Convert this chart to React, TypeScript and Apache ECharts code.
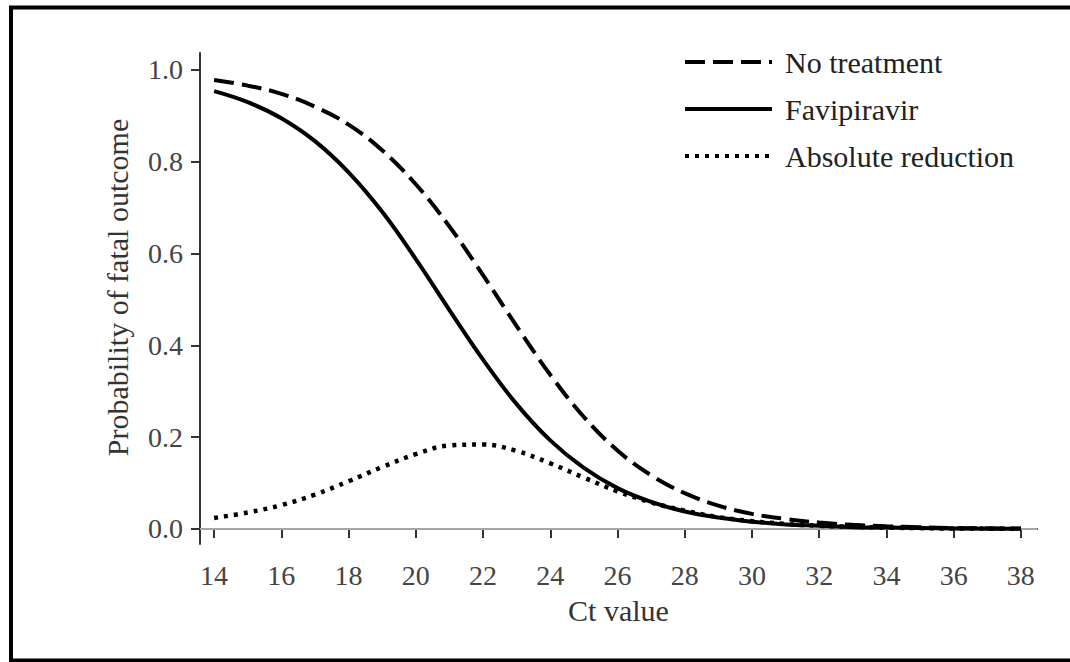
import React, { useEffect, useRef } from "react";
import * as echarts from "echarts";

const ctValues = [14, 15, 16, 17, 18, 19, 20, 21, 22, 23, 24, 25, 26, 27, 28, 29, 30, 31, 32, 33, 34, 35, 36, 37, 38];
const noTreatment = [0.978, 0.966, 0.948, 0.920, 0.881, 0.825, 0.751, 0.659, 0.553, 0.442, 0.336, 0.244, 0.171, 0.117, 0.078, 0.051, 0.033, 0.022, 0.014, 0.009, 0.006, 0.004, 0.002, 0.0015, 0.001];
const favipiravir = [0.954, 0.930, 0.895, 0.845, 0.777, 0.691, 0.588, 0.477, 0.369, 0.272, 0.193, 0.133, 0.089, 0.059, 0.038, 0.025, 0.016, 0.010, 0.007, 0.004, 0.003, 0.002, 0.001, 0.0007, 0.0004];
const absoluteReduction = [0.024, 0.036, 0.052, 0.075, 0.104, 0.135, 0.163, 0.182, 0.184, 0.170, 0.143, 0.112, 0.082, 0.058, 0.040, 0.026, 0.017, 0.011, 0.007, 0.005, 0.003, 0.002, 0.001, 0.0008, 0.0006];
const xTicks = [14, 16, 18, 20, 22, 24, 26, 28, 30, 32, 34, 36, 38];
const yTicks = [0, 0.2, 0.4, 0.6, 0.8, 1.0];
const seriesNames = ["No treatment", "Favipiravir", "Absolute reduction"];

const FONT = "Liberation Serif";

export default function App() {
  const ref = useRef<HTMLDivElement>(null);
  useEffect(() => {
    if (!ref.current) return;
    const chart = echarts.init(ref.current, undefined, { renderer: "svg" });
    const pairs = (ys: number[]) => ctValues.map((x, i) => [x, ys[i]]);
    chart.setOption({
      animation: false,
      backgroundColor: "#ffffff",
      textStyle: { fontFamily: FONT },
      grid: { left: 200, right: 33, top: 53, bottom: 118, containLabel: false },
      legend: {
        orient: "vertical",
        left: 678,
        top: 42,
        itemWidth: 87,
        itemHeight: 14,
        itemGap: 17,
        data: seriesNames,
        itemStyle: { opacity: 0 },
        lineStyle: { width: 4 },
        textStyle: { fontFamily: FONT, fontSize: 30, color: "#222", padding: [0, 0, 0, 8] },
      },
      xAxis: {
        type: "value",
        min: 13.58,
        max: 38.48,
        name: "Ct value",
        nameLocation: "middle",
        nameGap: 51,
        nameTextStyle: { fontFamily: FONT, fontSize: 30, color: "#333" },
        axisLine: { show: true, lineStyle: { color: "#333", width: 2 } },
        axisTick: { show: true, length: 9, lineStyle: { color: "#333", width: 2 }, customValues: xTicks },
        axisLabel: { fontFamily: FONT, fontSize: 28, color: "#444", margin: 17, customValues: xTicks },
        splitLine: { show: false },
      },
      yAxis: {
        type: "value",
        min: -0.0327,
        max: 1.037,
        name: "Probability of fatal outcome",
        nameLocation: "middle",
        nameGap: 68,
        nameTextStyle: { fontFamily: FONT, fontSize: 30, color: "#333", padding: [0, 0, 0, 22] },
        axisLine: { show: true, lineStyle: { color: "#333", width: 2 } },
        axisTick: { show: true, length: 9, lineStyle: { color: "#333", width: 2 }, customValues: yTicks },
        axisLabel: {
          fontFamily: FONT,
          fontSize: 28,
          color: "#444",
          margin: 17,
          customValues: yTicks,
          formatter: (v: number) => v.toFixed(1),
        },
        splitLine: { show: false },
      },
      graphic: [
        {
          type: "rect",
          shape: { x: 11, y: 7.5, width: 1100, height: 653 },
          style: { fill: "none", stroke: "#000", lineWidth: 4 },
          silent: true,
          z: 100,
        },
      ],
      series: [
        {
          name: seriesNames[0],
          type: "line",
          data: pairs(noTreatment),
          showSymbol: false,
          symbol: "none",
          smooth: 0.4,
          lineStyle: { color: "#000", width: 4, type: [20, 8] },
          itemStyle: { color: "#000" },
          z: 3,
          markLine: {
            silent: true,
            symbol: "none",
            label: { show: false },
            lineStyle: { color: "#cccccc", width: 1.5, type: "solid" },
            data: [{ yAxis: 0 }],
            z: 1,
          },
        },
        {
          name: seriesNames[1],
          type: "line",
          data: pairs(favipiravir),
          showSymbol: false,
          symbol: "none",
          smooth: 0.4,
          lineStyle: { color: "#000", width: 4, type: "solid" },
          itemStyle: { color: "#000" },
          z: 3,
        },
        {
          name: seriesNames[2],
          type: "line",
          data: pairs(absoluteReduction),
          showSymbol: false,
          symbol: "none",
          smooth: 0.4,
          lineStyle: { color: "#000", width: 4.5, type: [4, 6] },
          itemStyle: { color: "#000" },
          z: 3,
        },
      ],
    });
    return () => chart.dispose();
  }, []);
  return (
    <div
      ref={ref}
      style={{ position: "absolute", left: 0, top: 0, width: 1070, height: 662, background: "#fff" }}
    />
  );
}
